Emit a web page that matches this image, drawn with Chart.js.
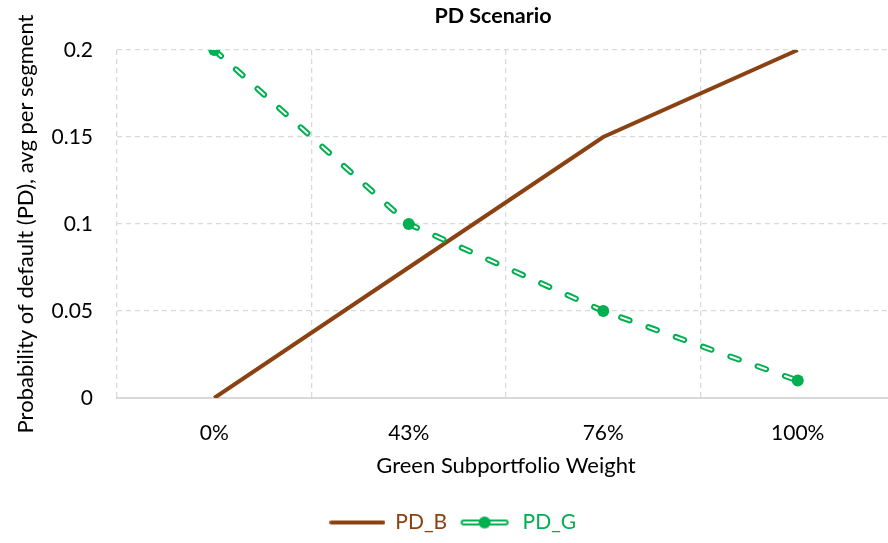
<!DOCTYPE html>
<html>
<head>
<meta charset="utf-8">
<script src="https://cdn.jsdelivr.net/npm/chart.js@4"></script>
<style>
  html, body { margin: 0; padding: 0; background: #fff; overflow: hidden; }
</style>
</head>
<body>
<canvas id="chartCanvas" width="901" height="543"></canvas>
<script>
// --- data ---
const weights = ["0%", "43%", "76%", "100%"];
const pdB = [0, 0.075, 0.15, 0.2];
const pdG = [0.2, 0.1, 0.05, 0.01];
const yTicks = [0, 0.05, 0.1, 0.15, 0.2];

const BROWN = "#8A4212";
const GREEN = "#00B050";
const GRID = "#d9d9d9";
const FONT = "Lato, 'Open Sans', sans-serif";

// legend symbols as small canvases
function brownSymbol() {
  const c = document.createElement("canvas");
  c.width = 56; c.height = 10;
  const g = c.getContext("2d");
  g.strokeStyle = BROWN; g.lineWidth = 4; g.lineCap = "round";
  g.beginPath(); g.moveTo(2, 5); g.lineTo(54, 5); g.stroke();
  return c;
}
function greenSymbol() {
  const c = document.createElement("canvas");
  c.width = 50; c.height = 14;
  const g = c.getContext("2d");
  g.lineCap = "round";
  [[4, 19], [31, 46]].forEach(([a, b]) => {
    g.strokeStyle = GREEN; g.lineWidth = 6;
    g.beginPath(); g.moveTo(a, 7); g.lineTo(b, 7); g.stroke();
    g.strokeStyle = "#fff"; g.lineWidth = 2;
    g.beginPath(); g.moveTo(a, 7); g.lineTo(b, 7); g.stroke();
  });
  g.fillStyle = GREEN;
  g.beginPath(); g.arc(25, 7, 6, 0, Math.PI * 2); g.fill();
  return c;
}

// title drawn by hand so it can sit where Excel put it
const titlePlugin = {
  id: "pdTitle",
  afterDraw(chart) {
    const ctx = chart.ctx;
    ctx.save();
    ctx.font = "bold 21.5px " + FONT;
    ctx.fillStyle = "#000";
    ctx.textAlign = "center";
    ctx.textBaseline = "middle";
    ctx.fillText("PD Scenario", 493, 16);
    ctx.restore();
  }
};

const dashLine = [9, 20];

new Chart(document.getElementById("chartCanvas"), {
  type: "line",
  data: {
    labels: weights,
    datasets: [
      { // markers on top
        label: "PD_G", data: pdG, order: 0, showLine: false,
        pointRadius: 6, pointHoverRadius: 6,
        pointBackgroundColor: GREEN, pointBorderColor: GREEN, pointBorderWidth: 0
      },
      { // inner white stripe of the double line
        label: "PD_G inner", data: pdG, order: 1,
        borderColor: "#fff", borderWidth: 2, borderDash: dashLine,
        borderCapStyle: "round", pointRadius: 0, tension: 0
      },
      { // outer green of the double line
        label: "PD_G outer", data: pdG, order: 2,
        borderColor: GREEN, borderWidth: 6, borderDash: dashLine,
        borderCapStyle: "round", pointRadius: 0, tension: 0
      },
      {
        label: "PD_B", data: pdB, order: 3,
        borderColor: BROWN, borderWidth: 4, pointRadius: 0, tension: 0
      }
    ]
  },
  options: {
    responsive: false,
    animation: false,
    layout: { padding: { left: 5, top: 50, right: 0, bottom: 0 } },
    plugins: {
      title: { display: false },
      tooltip: { enabled: false },
      legend: {
        position: "bottom",
        labels: {
          usePointStyle: true,
          pointStyleWidth: 55,
          padding: 10,
          font: { family: FONT, size: 21 },
          generateLabels: () => [
            { text: "PD_B", pointStyle: brownSymbol(), fontColor: BROWN, datasetIndex: 3, lineWidth: 0, strokeStyle: "transparent", fillStyle: "transparent" },
            { text: "PD_G", pointStyle: greenSymbol(), fontColor: GREEN, datasetIndex: 0, lineWidth: 0, strokeStyle: "transparent", fillStyle: "transparent" }
          ]
        }
      }
    },
    scales: {
      x: {
        offset: true,
        grid: { offset: true, color: GRID, lineWidth: 1.3, drawTicks: false },
        border: { display: true, color: GRID, width: 2, dash: [5, 4] },
        ticks: { padding: 23, color: "#000", font: { family: FONT, size: 21 } },
        title: {
          display: true, text: "Green Subportfolio Weight", color: "#000",
          font: { family: FONT, size: 22 }, padding: { top: 10, bottom: 23 }
        },
        afterFit: s => { s.height = 104; }
      },
      y: {
        min: 0, max: 0.2,
        afterBuildTicks: s => { s.ticks = yTicks.map(v => ({ value: v })); },
        grid: {
          color: ctx => (ctx.tick && ctx.tick.value === 0 ? "transparent" : GRID),
          lineWidth: 1.3, drawTicks: false
        },
        border: { display: false, dash: [5, 4] },
        ticks: {
          padding: 24, color: "#000", font: { family: FONT, size: 21 },
          callback: v => String(v)
        },
        title: {
          display: true, text: "Probability of default (PD), avg per segment", color: "#000",
          font: { family: FONT, size: 22 }, padding: { top: 8, bottom: 6 }
        },
        afterFit: s => { s.width = 112; }
      }
    }
  },
  plugins: [titlePlugin]
});
</script>
</body>
</html>
